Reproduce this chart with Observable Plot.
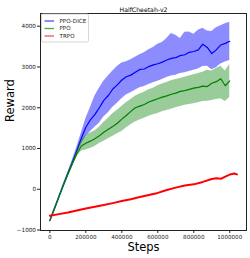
<!DOCTYPE html>
<html>
<head>
<meta charset="utf-8">
<script src="https://cdn.jsdelivr.net/npm/d3@7"></script>
<script src="https://cdn.jsdelivr.net/npm/@observablehq/plot@0.6"></script>
<style>
  html, body { margin: 0; padding: 0; background: #fff; }
  #chart { width: 250px; height: 258px; }
</style>
</head>
<body>
<div id="chart"></div>
<script>
const title = "HalfCheetah-v2";
const xLabel = "Steps";
const yLabel = "Reward";
const seriesNames = ["PPO-DICE", "PPO", "TRPO"];
const xTicks = [0, 200000, 400000, 600000, 800000, 1000000];
const yTicks = [-1000, 0, 1000, 2000, 3000, 4000];

const steps = [0, 25000, 50000, 75000, 100000, 125000, 150000, 175000, 200000, 225000,
  250000, 275000, 300000, 325000, 350000, 375000, 400000, 425000, 450000, 475000,
  500000, 525000, 550000, 575000, 600000, 625000, 650000, 675000, 700000, 725000,
  750000, 775000, 800000, 825000, 850000, 875000, 900000, 925000, 950000, 975000, 1000000];

const diceMean = [-770, -480, -190, 100, 380, 660, 950, 1250, 1520, 1700,
  1830, 2000, 2180, 2300, 2460, 2560, 2680, 2760, 2800, 2870,
  2940, 2950, 3010, 3050, 3080, 3120, 3170, 3210, 3230, 3280,
  3300, 3360, 3380, 3420, 3560, 3480, 3330, 3420, 3540, 3580, 3630];
const diceHigh = [-760, -460, -170, 130, 420, 710, 1030, 1380, 1730, 2000,
  2280, 2480, 2650, 2780, 2900, 3010, 3100, 3130, 3180, 3240,
  3300, 3350, 3420, 3480, 3560, 3600, 3700, 3820, 3780, 3700,
  3850, 3860, 3800, 3900, 3950, 3880, 3870, 3960, 4010, 4060, 4100];
const diceLow = [-780, -500, -210, 70, 340, 610, 870, 1100, 1300, 1410,
  1520, 1620, 1770, 1880, 2010, 2110, 2220, 2310, 2370, 2430,
  2490, 2520, 2570, 2610, 2650, 2690, 2740, 2780, 2800, 2840,
  2860, 2890, 2920, 2950, 3010, 3020, 2930, 2980, 3070, 3120, 3160];

const ppoMean = [-770, -490, -200, 90, 360, 620, 870, 1060, 1130, 1180,
  1240, 1310, 1400, 1470, 1540, 1620, 1720, 1810, 1910, 2000,
  2040, 2080, 2140, 2180, 2220, 2260, 2290, 2330, 2360, 2400,
  2420, 2450, 2480, 2500, 2530, 2520, 2600, 2640, 2710, 2540, 2660];
const ppoHigh = [-760, -470, -180, 120, 400, 670, 940, 1200, 1330, 1380,
  1430, 1520, 1640, 1740, 1850, 1940, 2030, 2120, 2200, 2280,
  2340, 2380, 2440, 2480, 2540, 2580, 2620, 2660, 2690, 2720,
  2750, 2780, 2810, 2840, 2870, 2920, 2900, 2960, 3020, 2900, 3060];
const ppoLow = [-780, -510, -220, 60, 320, 570, 800, 930, 960, 1000,
  1050, 1120, 1180, 1240, 1300, 1360, 1420, 1500, 1580, 1650,
  1700, 1740, 1790, 1830, 1860, 1900, 1930, 1960, 2000, 2030,
  2060, 2080, 2100, 2120, 2150, 2160, 2180, 2200, 2220, 2150, 2250];

const trpoSteps = [0, 50000, 100000, 150000, 200000, 250000, 300000, 350000, 400000, 450000,
  500000, 550000, 600000, 650000, 700000, 750000, 800000, 850000, 900000, 925000,
  950000, 975000, 1000000, 1025000, 1040000];
const trpoMean = [-650, -610, -570, -520, -470, -430, -385, -340, -290, -245,
  -190, -140, -90, -20, 40, 90, 120, 180, 250, 270,
  255, 310, 360, 385, 365];

const colors = {dice: "#0000ff", diceFill: "#0000ff", ppo: "#008000", ppoFill: "#008000", trpo: "#ff0000"};

const dice = steps.map((s, i) => ({step: s, mean: diceMean[i], lo: diceLow[i], hi: diceHigh[i]}));
const ppo = steps.map((s, i) => ({step: s, mean: ppoMean[i], lo: ppoLow[i], hi: ppoHigh[i]}));
const trpo = trpoSteps.map((s, i) => ({step: s, mean: trpoMean[i]}));

const font = "DejaVu Sans, sans-serif";

const chart = Plot.plot({
  width: 250,
  height: 258,
  marginLeft: 40,
  marginRight: 4,
  marginTop: 13,
  marginBottom: 28,
  style: {fontFamily: font, background: "#fff", color: "#222"},
  x: {domain: [-52000, 1093000]},
  y: {domain: [-1012, 4312]},
  marks: [
    Plot.areaY(dice, {x: "step", y1: "lo", y2: "hi", fill: colors.diceFill, fillOpacity: 0.45, curve: "linear"}),
    Plot.lineY(dice, {x: "step", y: "mean", stroke: colors.dice, strokeWidth: 1.2}),
    Plot.areaY(ppo, {x: "step", y1: "lo", y2: "hi", fill: colors.ppoFill, fillOpacity: 0.4, curve: "linear"}),
    Plot.lineY(ppo, {x: "step", y: "mean", stroke: colors.ppo, strokeWidth: 1.2}),
    Plot.lineY(trpo, {x: "step", y: "mean", stroke: colors.trpo, strokeWidth: 2}),
    Plot.axisX({ticks: xTicks, tickFormat: d3.format("d"), tickSize: 3, tickPadding: 2, fontSize: 5.6, label: null}),
    Plot.axisY({ticks: yTicks, tickFormat: d3.format("d"), tickSize: 3, tickPadding: 1.5, fontSize: 5.7, label: null}),
    Plot.frame({stroke: "#222", strokeWidth: 1}),
    Plot.text([xLabel], {frameAnchor: "bottom", dy: 20, fontSize: 11.5, fill: "#000"}),
    Plot.text([yLabel], {frameAnchor: "left", rotate: -90, dx: -30, fontSize: 11.5, fill: "#000"}),
    Plot.text([title], {frameAnchor: "top", dy: -6, fontSize: 6.2, fill: "#000"})
  ]
});

// legend inside the plot area (top-left)
const svg = d3.select(chart);
const lg = svg.append("g").attr("transform", "translate(41.5,14)");
lg.append("rect").attr("width", 47).attr("height", 28).attr("rx", 1.5)
  .attr("fill", "#fff").attr("fill-opacity", 0.85).attr("stroke", "#ccc").attr("stroke-width", 0.8);
const legendColors = [colors.dice, colors.ppo, colors.trpo];
seriesNames.forEach((name, i) => {
  const y = 7 + i * 7.5;
  lg.append("line").attr("x1", 3).attr("x2", 12.5).attr("y1", y).attr("y2", y)
    .attr("stroke", legendColors[i]).attr("stroke-opacity", 0.7).attr("stroke-width", 1.3);
  lg.append("text").attr("x", 18).attr("y", y).attr("dy", "0.35em")
    .attr("text-anchor", "start")
    .attr("font-size", 5.6).attr("font-family", font).attr("fill", "#222").text(name);
});

document.getElementById("chart").appendChild(chart);
</script>
</body>
</html>
